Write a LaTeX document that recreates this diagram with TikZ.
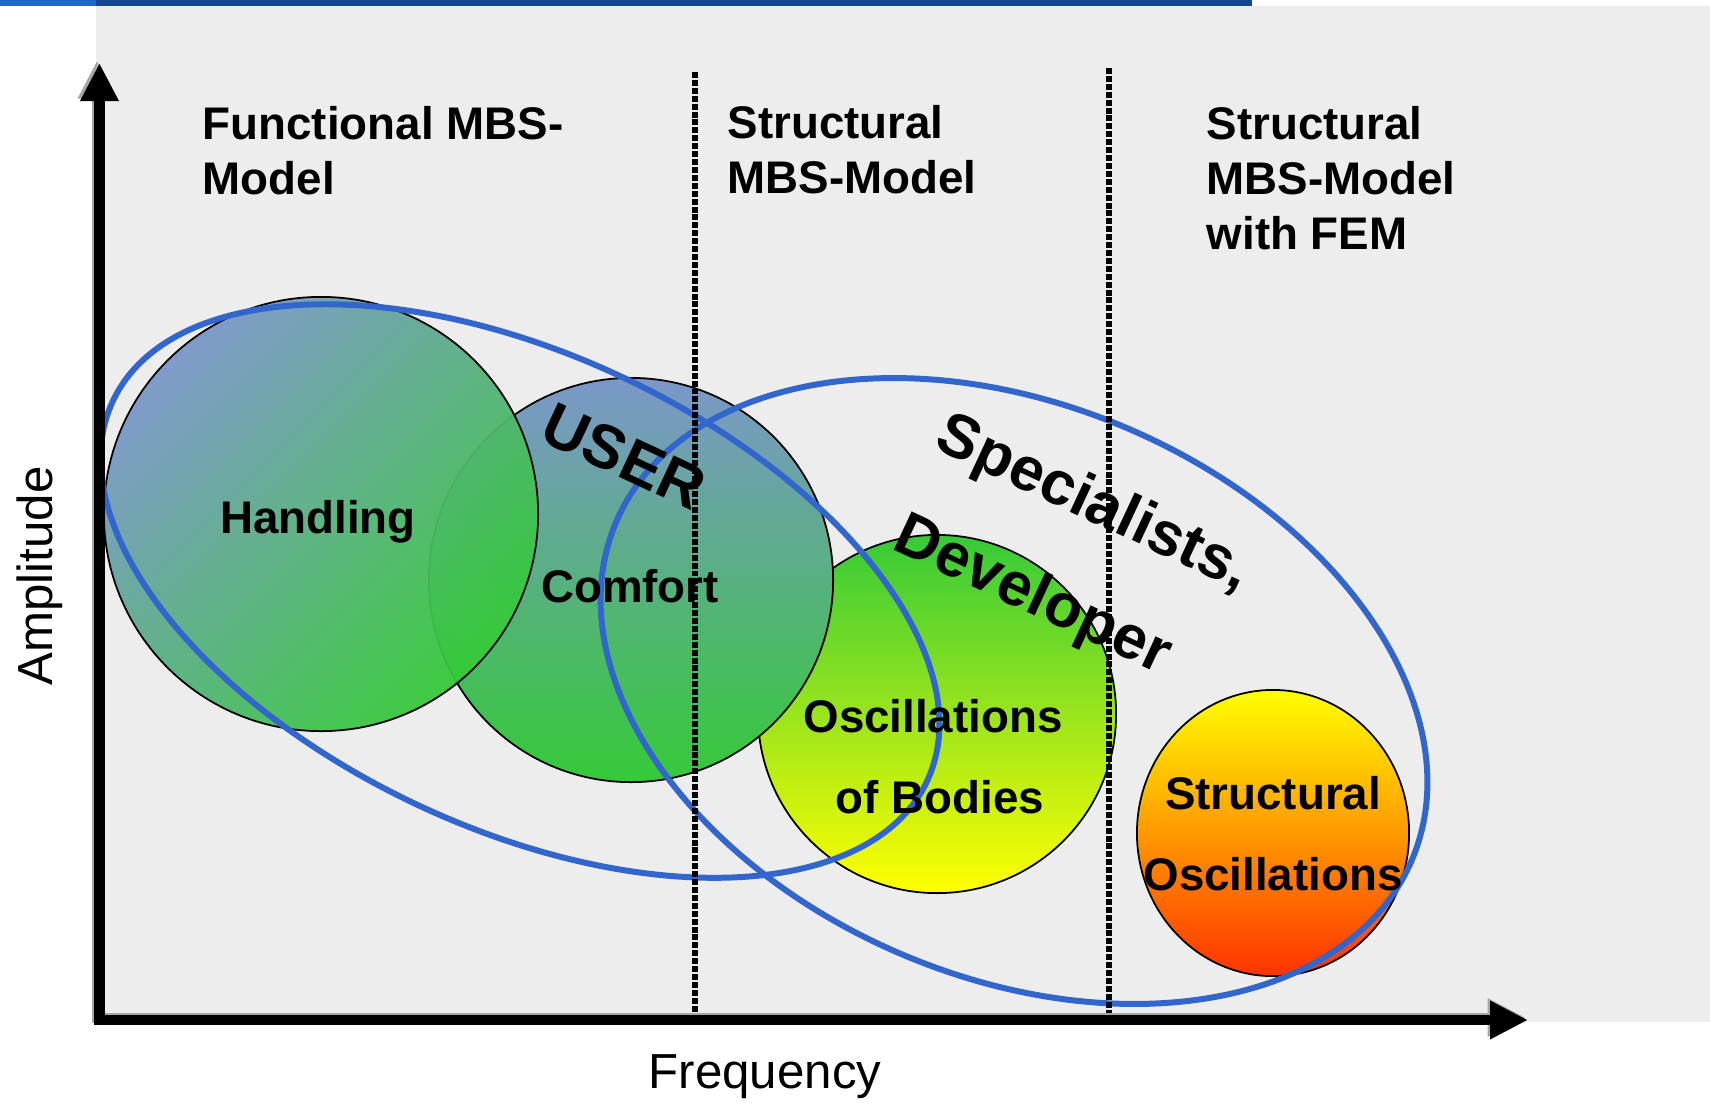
\documentclass[tikz,border=0pt]{standalone}
\usepackage{fontspec}
\setmainfont{Liberation Sans}
\usetikzlibrary{arrows.meta,shapes.geometric}
\definecolor{barblue}{HTML}{14488A}
\definecolor{barlight}{HTML}{2266CC}
\definecolor{panelgray}{HTML}{EDEDED}
\definecolor{ringblue}{HTML}{3366CC}
\definecolor{bluegray}{HTML}{7B97C9}
\definecolor{leafgreen}{HTML}{35CA38}
\definecolor{sunyellow}{HTML}{FFFF00}
\definecolor{warmorange}{HTML}{FF9900}
\definecolor{hotred}{HTML}{FF3300}

\begin{document}
\begin{tikzpicture}[x=0.01cm, y=-0.01cm,
  bubble/.style={circle, draw=black, line width=0.5pt, inner sep=0pt},
  ring/.style={draw=ringblue, line width=1.7pt},
  border/.style={dash pattern=on 1.7pt off 0.55pt, line width=1.6pt},
  axis/.style={line width=2.85pt, line cap=rect, -{Triangle[length=0.38cm,width=0.36cm]}},
  head/.style={font=\fontsize{13}{15.6}\selectfont\bfseries, align=left, anchor=west, inner sep=0pt},
  tag/.style={font=\fontsize{13}{23}\selectfont\bfseries, align=center, inner sep=0pt},
  group/.style={font=\fontsize{17.5}{21}\selectfont\bfseries, inner sep=0pt, rotate=-25},
  quantity/.style={font=\fontsize{14}{17}\selectfont, inner sep=0pt}]
  \useasboundingbox (0,0) rectangle (1710,1102);

  % panel and top bar
  \fill[panelgray] (96,6) rectangle (1710,1022);
  \fill[barlight] (0,0) rectangle (96,6);
  \fill[barblue] (96,0) rectangle (1252,6);

  % frequency bands
  \node[bubble, minimum size=3.58cm, top color=leafgreen, bottom color=sunyellow] (bodies) at (937,714) {};
  \node[bubble, minimum size=4.04cm, top color=bluegray, bottom color=leafgreen] (comfort) at (631,580) {};
  \node[bubble, minimum size=4.34cm, top color=bluegray, bottom color=leafgreen, shading angle=45, fill opacity=0.95] (handling) at (321,514) {};
  \node[ellipse, draw=black, line width=0.5pt, inner sep=0pt, minimum width=2.72cm, minimum height=2.86cm,
        top color=sunyellow, middle color=warmorange, bottom color=hotred] (structural) at (1273,833) {};

  % user groups
  \coordinate (userc) at (520,591);
  \coordinate (specc) at (1014,691);
  \draw[ring, rotate around={-25:(userc)}] (userc) ellipse [x radius=4.49cm, y radius=2.37cm];
  \draw[ring, rotate around={-23:(specc)}] (specc) ellipse [x radius=4.32cm, y radius=2.86cm];

  \draw[border] (695,72) -- (695,1020);
  \draw[border] (1109,68) -- (1109,1020);

  % axes
  \coordinate (origin) at (99.5,1020);
  \coordinate (ytip) at (99.5,63);
  \coordinate (xtip) at (1528,1020);
  \draw[axis, gray!70] ([shift={(-2.5,-2.5)}]origin) -- ([shift={(-2.5,-2.5)}]ytip);
  \draw[axis, gray!70] ([shift={(-2.5,-2.5)}]origin) -- ([shift={(-2.5,-2.5)}]xtip);
  \draw[axis] (origin) -- (ytip);
  \draw[axis] (origin) -- (xtip);

  \node[head] (funchead) at (202,151) {Functional MBS-\\Model};
  \node[head] (structhead) at (727,150) {Structural\\MBS-Model};
  \node[head] (femhead) at (1206,178) {Structural\\MBS-Model\\with FEM};

  \node[tag, anchor=base] (handlingtxt) at (318,533) {Handling};
  \node[tag, anchor=base] (comforttxt) at (630,602) {Comfort};
  \node[tag] (bodiestxt) at (933,757) {Oscillations\\\hspace{0.3em}of Bodies};
  \node[tag] (structtxt) at (1273,834) {Structural\\Oscillations};

  \node[group] (usertxt) at (624,456) {USER};
  \node[group] (spectxt) at (1093,505) {Specialists,};
  \node[group] (devtxt) at (1032,597) {Developer};

  \node[quantity, rotate=90, anchor=base] (amp) at (52,576) {Amplitude};
  \node[quantity, anchor=base] (freq) at (765,1088) {Frequency};
\end{tikzpicture}
\end{document}
